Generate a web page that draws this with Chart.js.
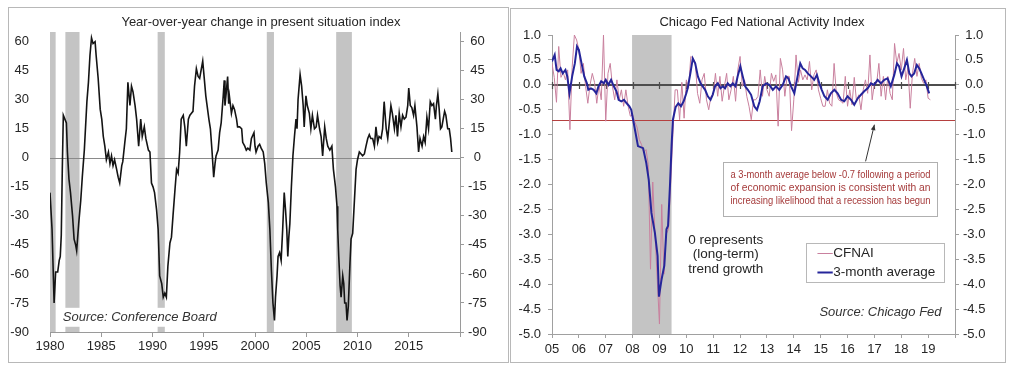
<!DOCTYPE html>
<html>
<head>
<meta charset="utf-8">
<script src="https://cdn.jsdelivr.net/npm/chart.js@4.4.1/dist/chart.umd.min.js"></script>
<style>
  html, body { margin: 0; padding: 0; background: #fff; }
  body { width: 1017px; height: 372px; position: relative; overflow: hidden; }
  .panel { position: absolute; border: 1px solid #b8b8b8; }
  #boxLeft { left: 8px; top: 7px; width: 499px; height: 354px; }
  #boxRight { left: 510px; top: 8px; width: 494px; height: 353px; }
  .panel canvas { display: block; }
</style>
</head>
<body>
<div class="panel" id="boxLeft"><canvas id="chartLeft" width="499" height="354"></canvas></div>
<div class="panel" id="boxRight"><canvas id="chartRight" width="494" height="353"></canvas></div>
<script>
/* ---------- left panel data: present situation index, y/y change ---------- */
const leftYears = [
  1980.0, 1980.2, 1980.4, 1980.55, 1980.75, 1980.9, 1981.0, 1981.1, 1981.2, 1981.3, 1981.45, 1981.6, 1981.7, 1981.85,
  1982.0, 1982.2, 1982.35, 1982.5, 1982.6, 1982.8, 1983.0, 1983.15, 1983.35, 1983.6, 1983.75, 1983.9,
  1984.05, 1984.2, 1984.4, 1984.5, 1984.7, 1984.9, 1985.05, 1985.2, 1985.35, 1985.5, 1985.7, 1985.85,
  1986.0, 1986.15, 1986.3, 1986.5, 1986.65, 1986.8, 1987.0, 1987.1, 1987.3, 1987.45, 1987.6, 1987.8, 1987.95,
  1988.1, 1988.3, 1988.45, 1988.65, 1988.85, 1989.0, 1989.2, 1989.35, 1989.6, 1989.75, 1989.9,
  1990.05, 1990.2, 1990.4, 1990.55, 1990.7, 1990.9, 1991.05, 1991.2, 1991.35, 1991.5, 1991.7, 1991.85,
  1992.0, 1992.2, 1992.35, 1992.5, 1992.65, 1992.8, 1993.0, 1993.15, 1993.3, 1993.5, 1993.65, 1993.8, 1993.95,
  1994.1, 1994.28, 1994.45, 1994.6, 1994.9, 1995.0, 1995.2, 1995.3, 1995.5, 1995.65, 1995.8, 1995.97,
  1996.1, 1996.2, 1996.4, 1996.55, 1996.7, 1996.9, 1997.0, 1997.07, 1997.2, 1997.33, 1997.43, 1997.5, 1997.7, 1997.85,
  1998.0, 1998.2, 1998.3, 1998.5, 1998.7, 1998.8, 1999.0, 1999.15, 1999.3, 1999.5, 1999.65, 1999.9,
  2000.0, 2000.1, 2000.3, 2000.45, 2000.6, 2000.8, 2000.95, 2001.1, 2001.3, 2001.45, 2001.6, 2001.75, 2001.9,
  2002.0, 2002.15, 2002.25, 2002.4, 2002.55, 2002.7, 2002.85, 2002.98, 2003.1, 2003.2, 2003.3, 2003.4, 2003.55, 2003.7, 2003.85,
  2004.0, 2004.1, 2004.2, 2004.4, 2004.55, 2004.7, 2004.8, 2004.97, 2005.1, 2005.3, 2005.45, 2005.6, 2005.8, 2005.97,
  2006.1, 2006.3, 2006.45, 2006.6, 2006.8, 2006.95, 2007.1, 2007.3, 2007.5, 2007.65, 2007.85,
  2008.0, 2008.07, 2008.17, 2008.3, 2008.4, 2008.56, 2008.66, 2008.75, 2008.88, 2008.98, 2009.1, 2009.27, 2009.37, 2009.53, 2009.7, 2009.86,
  2010.0, 2010.18, 2010.35, 2010.5, 2010.67, 2010.83, 2011.0, 2011.15, 2011.3, 2011.48, 2011.65, 2011.8, 2011.97,
  2012.1, 2012.3, 2012.45, 2012.6, 2012.8, 2012.95, 2013.1, 2013.26, 2013.4, 2013.6, 2013.75, 2013.9,
  2014.07, 2014.24, 2014.4, 2014.56, 2014.73, 2014.9, 2015.0, 2015.15, 2015.3, 2015.47, 2015.6, 2015.8, 2015.96,
  2016.1, 2016.3, 2016.45, 2016.6, 2016.77, 2016.93, 2017.1, 2017.26, 2017.42, 2017.6, 2017.7, 2017.84, 2017.97,
  2018.1, 2018.23, 2018.36, 2018.5, 2018.62, 2018.8, 2018.95, 2019.08, 2019.2
];
const leftValues = [
  -18, -37, -75, -59, -59, -53, -51, -40, -6, 22, 20, 18, 3, -11,
  -18, -30, -42, -45, -48, -34, -22, -10, 4, 29, 39, 53,
  62, 59, 60, 53, 41, 25, 20, 11, 6, -1, 3, -3,
  1, -4, -1, -6, -10, -13, -4, -2, 8, 15, 39, 27, 37,
  34, 27, 20, 6, 20, 11, 16, 10, 4, 3, -13,
  -15, -18, -27, -37, -61, -65, -72, -70, -72, -56, -44, -41,
  -30, -16, -6, -8, 3, 20, 22, 16, 6, 20, 22, 23, 24,
  37, 46, 42, 41, 50, 44, 32, 28, 20, 15, 4, -10,
  -3, 1, 4, 13, 18, 32, 40, 27, 34, 42, 28, 32, 23, 27,
  25, 20, 16, 16, 15, 8, 6, 4, 5, 4, 10, 13,
  6, 3, 6, 7, 5, 3, -3, -13, -23, -37, -58, -75, -84,
  -72, -61, -51, -49, -53, -37, -18, -27, -37, -51, -41, -34, -15, 1, 11,
  20, 15, 30, 43, 37, 27, 16, 32, 27, 23, 15, 22, 15, 16,
  22, 15, 11, 1, 16, 10, 6, 4, 6, -6, -15,
  -25, -37, -51, -66, -72, -61, -65, -75, -75, -84, -77, -54, -42, -39, -22, -6,
  -1, 3, 2, 1, 2, 6, 10, 12, 10, 10, 6, 16, 8,
  11, 10, 15, 29, 15, 10, 18, 27, 23, 15, 22, 11,
  23, 16, 22, 20, 21, 27, 36, 27, 26, 22, 27, 16, 3,
  10, 6, 11, 8, 21, 15, 29, 27, 28, 20, 27, 33, 25,
  15, 16, 20, 24, 22, 15, 15, 10, 3
];
const leftRecStarts = [1980.0, 1981.5, 1990.5, 2001.15, 2007.92];
const leftRecEnds = [1980.55, 1982.88, 1991.2, 2001.85, 2009.45];
const leftYTicks = [-90, -75, -60, -45, -30, -15, 0, 15, 30, 45, 60];
const leftXTicks = [1980, 1985, 1990, 1995, 2000, 2005, 2010, 2015, 2020];
const leftXLabels = ['1980', '1985', '1990', '1995', '2000', '2005', '2010', '2015', ''];

/* ---------- right panel data: CFNAI ---------- */
const seriesNames = ['CFNAI', '3-month average'];
const cfnaiStart = 2005; // monthly values from Jan 2005
const cfnaiMonthly = [
  0.43, 0.15, -0.35, 0.77, 0.15, 0.25, 0.1, 0.3, -0.9, 0.35, 1.0, 0.9,
  0.7, 0.23, 0.43, -0.03, -0.37, 0.0, 0.23, 0.05, -0.37, 0.0, -0.3, 1.0,
  -0.73, 0.23, 0.43, -0.03, -0.3, 0.1, -0.3, -0.1, -0.43, -0.1, -0.43, -0.63,
  -0.6, -0.75, -0.85, -1.1, -1.2, -1.35, -1.3, -1.6, -3.7, -1.95, -3.0, -3.9,
  -4.8, -2.4, -3.8, -3.0, -2.9, -2.0, -1.0, -0.1, -0.1, -0.7, 0.05, -0.67,
  0.1, -0.07, 0.57, 0.53, 0.43, -0.17, -0.37, 0.1, 0.23, -0.3, -0.5, -0.23,
  -0.2, 0.23, -0.23, 0.17, -0.33, -0.03, 0.23, -0.3, -0.1, 0.17, -0.33, 0.3,
  0.57, -0.03, 0.1, -0.23, -0.43, -0.7, -0.3, -0.3, -0.23, 0.3, -0.23, 0.17,
  -0.1, -0.23, 0.23, 0.07, 0.2, -0.83, 0.53, 0.3, -0.23, 0.17, 0.17, -0.92,
  -0.3, 0.6, 0.05, 0.3, 0.1, 0.2, 0.1, 0.47, -0.1, 0.2, 0.3, -0.1,
  -0.27, -0.43, -0.43, -0.1, -0.37, -0.43, 0.43, -0.17, -0.3, -0.33, -0.37, 0.17,
  -0.43, -0.1, -0.4, 0.15, -0.33, -0.2, -0.5, -0.1, 0.1, -0.17, 0.6, -0.3,
  0.03, 0.03, 0.43, -0.23, 0.17, -0.3, 0.17, -0.17, -0.3, 0.83, 0.43, 0.63,
  0.3, 0.73, 0.1, 0.35, -0.47, 0.23, 0.53, 0.17, 0.43, 0.13, 0.03, 0.1,
  -0.27, -0.3
];
const avgYears = [
  2005.0, 2005.1, 2005.17, 2005.25, 2005.32, 2005.4, 2005.5, 2005.57, 2005.65, 2005.75, 2005.85, 2005.93,
  2006.0, 2006.1, 2006.2, 2006.3, 2006.35, 2006.45, 2006.55, 2006.65, 2006.73, 2006.83, 2006.93,
  2007.0, 2007.1, 2007.2, 2007.3, 2007.4, 2007.48, 2007.58, 2007.68, 2007.78, 2007.88, 2007.95,
  2008.02, 2008.2, 2008.39, 2008.51, 2008.6, 2008.7, 2008.83, 2008.93, 2008.98,
  2009.08, 2009.18, 2009.26, 2009.32, 2009.39, 2009.45, 2009.5, 2009.6, 2009.7, 2009.8, 2009.9,
  2010.0, 2010.05, 2010.15, 2010.24, 2010.33, 2010.43, 2010.53, 2010.61, 2010.7, 2010.8, 2010.9, 2010.98,
  2011.07, 2011.17, 2011.27, 2011.36, 2011.44, 2011.54, 2011.64, 2011.73, 2011.83, 2011.91,
  2012.01, 2012.1, 2012.19, 2012.29, 2012.41, 2012.53, 2012.63, 2012.73, 2012.84, 2012.97,
  2013.09, 2013.22, 2013.34, 2013.46, 2013.59, 2013.71, 2013.8, 2013.9,
  2014.02, 2014.14, 2014.24, 2014.33, 2014.42, 2014.52, 2014.64, 2014.76, 2014.86, 2014.95,
  2015.04, 2015.14, 2015.26, 2015.38, 2015.51, 2015.63, 2015.76, 2015.88,
  2016.0, 2016.13, 2016.25, 2016.38, 2016.5, 2016.62, 2016.75, 2016.87, 2016.99,
  2017.12, 2017.24, 2017.37, 2017.49, 2017.61, 2017.74, 2017.84, 2017.92,
  2018.01, 2018.11, 2018.21, 2018.3, 2018.38, 2018.48, 2018.58, 2018.67, 2018.75, 2018.85, 2018.95, 2019.04
];
const avgValues = [
  0.47, 0.6, 0.3, 0.27, 0.33, 0.23, 0.3, 0.17, -0.17, 0.17, 0.43, 0.77,
  0.7, 0.43, 0.17, 0.03, -0.1, -0.07, -0.1, -0.17, -0.03, 0.07, 0.03,
  0.1, 0.0, 0.1, -0.03, -0.13, -0.3, -0.33, -0.3, -0.37, -0.43, -0.5,
  -0.7, -1.23, -1.27, -1.57, -1.9, -2.57, -2.97, -3.43, -4.25,
  -3.9, -3.63, -2.9, -2.83, -2.03, -1.23, -0.7, -0.45, -0.37, -0.43, -0.33,
  -0.17, -0.07, 0.23, 0.53, 0.43, 0.17, 0.03, -0.03, -0.1, -0.23, -0.3, -0.2,
  -0.03, 0.03, -0.07, -0.03, -0.07, 0.03, -0.03, 0.03, -0.03, 0.17,
  0.37, 0.17, -0.03, -0.1, -0.2, -0.43, -0.5, -0.33, -0.03, 0.03,
  0.0, -0.1, -0.03, -0.1, 0.0, 0.17, 0.13, -0.03,
  -0.17, 0.17, 0.43, 0.33, 0.3, 0.23, 0.17, 0.1, 0.2, 0.03,
  -0.1, -0.23, -0.3, -0.17, -0.1, -0.17, -0.3, -0.33,
  -0.23, -0.3, -0.4, -0.27, -0.2, -0.13, -0.07, 0.03, 0.0,
  0.1, 0.03, 0.1, 0.13, -0.03, 0.2, 0.43, 0.37,
  0.17, 0.33, 0.5, 0.23, 0.17, 0.23, 0.4, 0.33, 0.23, 0.1, -0.03, -0.17
];
const rightRecStarts = [2007.98];
const rightRecEnds = [2009.45];
const threshold = -0.7;
const rightYTicks = [-5, -4.5, -4, -3.5, -3, -2.5, -2, -1.5, -1, -0.5, 0, 0.5, 1];
const rightXTicks = [2005, 2006, 2007, 2008, 2009, 2010, 2011, 2012, 2013, 2014, 2015, 2016, 2017, 2018, 2019, 2020];
const rightXLabels = ['05', '06', '07', '08', '09', '10', '11', '12', '13', '14', '15', '16', '17', '18', '19', ''];
const noteLines = [
  'a 3-month average below -0.7 following a period',
  'of economic expansion is consistent with an',
  'increasing likelihood that a recession has begun'
];
const trendLines = ['0 represents', '(long-term)', 'trend growth'];

/* ---------- shared bits ---------- */
const FONT = '"Liberation Sans", Arial, sans-serif';
const tickFont = { family: FONT, size: 13 };
const TXT = '#262626';

function fixTicks(list) {
  return s => { s.ticks = list.map(v => ({ value: v })); };
}

function shade(chart, starts, ends) {
  const { ctx, chartArea: a, scales: { x } } = chart;
  ctx.save();
  ctx.fillStyle = '#c4c4c4';
  starts.forEach((s, i) => {
    const x0 = x.getPixelForValue(s), x1 = x.getPixelForValue(ends[i]);
    ctx.fillRect(x0, a.top, x1 - x0, a.bottom - a.top);
  });
  ctx.restore();
}

function hLine(chart, v, color, w) {
  const { ctx, chartArea: a, scales: { y } } = chart;
  const py = Math.round(y.getPixelForValue(v)) + (w % 2 ? 0.5 : 0);
  ctx.save();
  ctx.strokeStyle = color;
  ctx.lineWidth = w;
  ctx.beginPath();
  ctx.moveTo(a.left, py);
  ctx.lineTo(a.right, py);
  ctx.stroke();
  ctx.restore();
  return py;
}

/* ---------- left chart ---------- */
const leftDecor = {
  id: 'leftDecor',
  beforeDatasetsDraw(chart) {
    shade(chart, leftRecStarts, leftRecEnds);
    hLine(chart, 0, '#8a8a8a', 1);
  },
  afterDatasetsDraw(chart) {
    const { ctx, scales: { x, y } } = chart;
    ctx.save();
    // white patch behind source note
    const bx0 = x.getPixelForValue(1980.85), bx1 = x.getPixelForValue(1997.2);
    const by0 = y.getPixelForValue(-77.5), by1 = y.getPixelForValue(-87.3);
    ctx.fillStyle = '#fff';
    ctx.fillRect(bx0, by0, bx1 - bx0, by1 - by0);
    ctx.fillStyle = '#333';
    ctx.font = 'italic 13px ' + FONT;
    ctx.textBaseline = 'middle';
    ctx.textAlign = 'left';
    ctx.fillText('Source: Conference Board', x.getPixelForValue(1981.25), y.getPixelForValue(-82.3));
    // title
    ctx.fillStyle = TXT;
    ctx.font = '13px ' + FONT;
    ctx.textAlign = 'center';
    ctx.fillText('Year-over-year change in present situation index', 252, 14);
    ctx.restore();
  }
};

new Chart(document.getElementById('chartLeft'), {
  type: 'line',
  data: {
    datasets: [{
      label: 'Present situation index, y/y',
      data: leftYears.map((yr, i) => ({ x: yr, y: leftValues[i] })),
      borderColor: '#141414',
      borderWidth: 1.6,
      pointRadius: 0,
      tension: 0
    }]
  },
  options: {
    responsive: false,
    animation: false,
    devicePixelRatio: 1,
    layout: { padding: { top: 24, left: 0, right: 0, bottom: 0 } },
    plugins: { legend: { display: false }, tooltip: { enabled: false } },
    scales: {
      x: {
        type: 'linear', min: 1980, max: 2020,
        afterBuildTicks: fixTicks(leftXTicks),
        afterFit: s => { s.height = 30; },
        grid: { drawOnChartArea: false, tickLength: 5, color: '#9a9a9a' },
        border: { color: '#9a9a9a' },
        ticks: { font: tickFont, color: TXT, padding: 2, maxRotation: 0, autoSkip: false,
                 callback: (v, i) => leftXLabels[i] }
      },
      y: {
        min: -90, max: 65,
        afterBuildTicks: fixTicks(leftYTicks),
        afterFit: s => { s.width = 41; },
        grid: { display: false },
        border: { display: false },
        ticks: { font: tickFont, color: TXT, padding: 13 }
      },
      y2: {
        position: 'right', min: -90, max: 65,
        afterBuildTicks: fixTicks(leftYTicks),
        afterFit: s => { s.width = 48; },
        grid: { drawOnChartArea: false, tickLength: 4, color: '#9a9a9a' },
        border: { color: '#9a9a9a' },
        ticks: { font: tickFont, color: TXT, padding: 4, crossAlign: 'center' }
      }
    }
  },
  plugins: [leftDecor]
});

/* ---------- right chart ---------- */
const rightDecor = {
  id: 'rightDecor',
  beforeDatasetsDraw(chart) {
    shade(chart, rightRecStarts, rightRecEnds);
    hLine(chart, threshold, '#b5403f', 1);
    const { ctx, scales: { x } } = chart;
    const y0 = hLine(chart, 0, '#4d4d4d', 2);
    ctx.save();
    ctx.strokeStyle = '#4d4d4d';
    ctx.lineWidth = 1.2;
    rightXTicks.forEach(t => {
      const px = Math.round(x.getPixelForValue(t)) + 0.5;
      ctx.beginPath();
      ctx.moveTo(px, y0 - 3);
      ctx.lineTo(px, y0 + 4);
      ctx.stroke();
    });
    ctx.restore();
  },
  afterDatasetsDraw(chart) {
    const { ctx, scales: { x, y } } = chart;
    const X = v => x.getPixelForValue(v), Y = v => y.getPixelForValue(v);
    ctx.save();
    ctx.textBaseline = 'middle';

    // title
    ctx.fillStyle = TXT;
    ctx.font = '13px ' + FONT;
    ctx.textAlign = 'center';
    ctx.fillText('Chicago Fed National Activity Index', 251, 13);

    // arrow to the threshold line
    const ax0 = X(2016.67), ay0 = Y(-1.54), ax1 = X(2017.0), ay1 = Y(-0.8);
    ctx.strokeStyle = '#333';
    ctx.fillStyle = '#333';
    ctx.lineWidth = 1;
    ctx.beginPath();
    ctx.moveTo(ax0, ay0);
    ctx.lineTo(ax1, ay1);
    ctx.stroke();
    const ang = Math.atan2(ay1 - ay0, ax1 - ax0);
    ctx.beginPath();
    ctx.moveTo(ax1, ay1);
    ctx.lineTo(ax1 - 6 * Math.cos(ang - 0.4), ay1 - 6 * Math.sin(ang - 0.4));
    ctx.lineTo(ax1 - 6 * Math.cos(ang + 0.4), ay1 - 6 * Math.sin(ang + 0.4));
    ctx.closePath();
    ctx.fill();

    // note box
    const nx0 = X(2011.38), nx1 = X(2019.35), ny0 = Y(-1.54), ny1 = Y(-2.62);
    ctx.fillStyle = '#fff';
    ctx.fillRect(nx0, ny0, nx1 - nx0, ny1 - ny0);
    ctx.strokeStyle = '#b0b0b0';
    ctx.strokeRect(Math.round(nx0) + 0.5, Math.round(ny0) + 0.5, Math.round(nx1 - nx0), Math.round(ny1 - ny0));
    ctx.fillStyle = '#a53a3a';
    ctx.font = '10.5px ' + FONT;
    ctx.textAlign = 'center';
    const ncx = (nx0 + nx1) / 2;
    noteLines.forEach((t, i) => ctx.fillText(t, ncx, Y(-1.82 - i * 0.26), nx1 - nx0 - 14));

    // trend growth note
    ctx.fillStyle = TXT;
    ctx.font = '13.5px ' + FONT;
    trendLines.forEach((t, i) => ctx.fillText(t, X(2011.47), Y(-3.12 - i * 0.29)));

    // legend
    const lx0 = X(2014.44), lx1 = X(2019.57), ly0 = Y(-3.18), ly1 = Y(-3.96);
    ctx.fillStyle = '#fff';
    ctx.fillRect(lx0, ly0, lx1 - lx0, ly1 - ly0);
    ctx.strokeStyle = '#b8b8b8';
    ctx.lineWidth = 1;
    ctx.strokeRect(Math.round(lx0) + 0.5, Math.round(ly0) + 0.5, Math.round(lx1 - lx0), Math.round(ly1 - ly0));
    ctx.textAlign = 'left';
    ctx.font = '13.5px ' + FONT;
    chart.data.datasets.forEach((ds, i) => {
      const ly = Math.round(Y(-3.38 - i * 0.38)) + 0.5;
      ctx.strokeStyle = ds.borderColor;
      ctx.lineWidth = ds.borderWidth;
      ctx.beginPath();
      ctx.moveTo(X(2014.88), ly);
      ctx.lineTo(X(2015.45), ly);
      ctx.stroke();
      ctx.fillStyle = TXT;
      ctx.fillText(ds.label, X(2015.47), ly);
    });

    // source
    ctx.font = 'italic 13px ' + FONT;
    ctx.textAlign = 'right';
    ctx.fillStyle = '#333';
    ctx.fillText('Source: Chicago Fed', X(2019.5), Y(-4.56));
    ctx.restore();
  }
};

new Chart(document.getElementById('chartRight'), {
  type: 'line',
  data: {
    datasets: [{
      label: seriesNames[0],
      data: cfnaiMonthly.map((v, i) => ({ x: cfnaiStart + i / 12, y: v })),
      borderColor: '#c9809e',
      borderWidth: 1,
      pointRadius: 0,
      tension: 0,
      order: 1
    }, {
      label: seriesNames[1],
      data: avgYears.map((yr, i) => ({ x: yr, y: avgValues[i] })),
      borderColor: '#25259a',
      borderWidth: 2,
      pointRadius: 0,
      tension: 0,
      order: 0
    }]
  },
  options: {
    responsive: false,
    animation: false,
    devicePixelRatio: 1,
    layout: { padding: { top: 26, left: 0, right: 0, bottom: 0 } },
    plugins: { legend: { display: false }, tooltip: { enabled: false } },
    scales: {
      x: {
        type: 'linear', min: 2005, max: 2020,
        afterBuildTicks: fixTicks(rightXTicks),
        afterFit: s => { s.height = 28; },
        grid: { drawOnChartArea: false, tickLength: 4, color: '#a0a0a0' },
        border: { color: '#a0a0a0' },
        ticks: { font: tickFont, color: TXT, padding: 4, maxRotation: 0, autoSkip: false,
                 callback: (v, i) => rightXLabels[i] }
      },
      y: {
        min: -5, max: 1,
        afterBuildTicks: fixTicks(rightYTicks),
        afterFit: s => { s.width = 41; },
        grid: { drawOnChartArea: false, tickLength: 4, color: '#a0a0a0' },
        border: { color: '#a0a0a0' },
        ticks: { font: tickFont, color: TXT, padding: 7, callback: v => v.toFixed(1) }
      },
      y2: {
        position: 'right', min: -5, max: 1,
        afterBuildTicks: fixTicks(rightYTicks),
        afterFit: s => { s.width = 50; },
        grid: { drawOnChartArea: false, tickLength: 4, color: '#a0a0a0' },
        border: { color: '#a0a0a0' },
        ticks: { font: tickFont, color: TXT, padding: 4, crossAlign: 'center', callback: v => v.toFixed(1) }
      }
    }
  },
  plugins: [rightDecor]
});
</script>
</body>
</html>
